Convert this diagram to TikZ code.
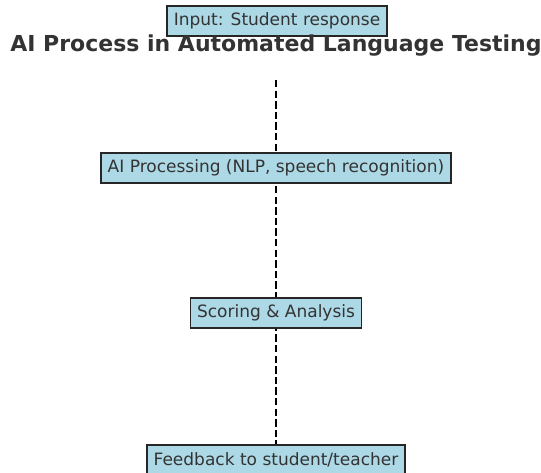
\documentclass[tikz,border=0pt]{standalone}
\usepackage{fontspec}
\setmainfont{DejaVu Sans}
\usetikzlibrary{backgrounds}
\definecolor{txt}{HTML}{333333}
\definecolor{boxfill}{HTML}{ADD8E6}
\tikzset{
  stagebox/.style={draw=black!85, line width=1.6pt, fill=boxfill, text=txt,
    font=\fontsize{17}{20}\selectfont, inner xsep=6.5pt, minimum height=30pt, inner ysep=0pt},
  flowline/.style={draw=black, line width=2pt, dash pattern=on 7.4pt off 3.2pt}
}
\begin{document}
\begin{tikzpicture}[x=1pt,y=-1pt]
\useasboundingbox (0,0) rectangle (541,472);
\node[stagebox] (input) at (277,21) {Input: Student response};
\node[text=txt, font=\bfseries\fontsize{22}{26}\selectfont, anchor=base] (title) at (276,51) {AI Process in Automated Language Testing};
\node[stagebox] (proc) at (276,168) {AI Processing (NLP, speech recognition)};
\node[stagebox] (score) at (276,313) {Scoring \& Analysis};
\node[stagebox] (fb) at (276,460) {Feedback to student/teacher};
\coordinate (top) at (276,80);
\begin{scope}[on background layer]
\draw[flowline] (top) -- (fb.north);
\end{scope}
\end{tikzpicture}
\end{document}
